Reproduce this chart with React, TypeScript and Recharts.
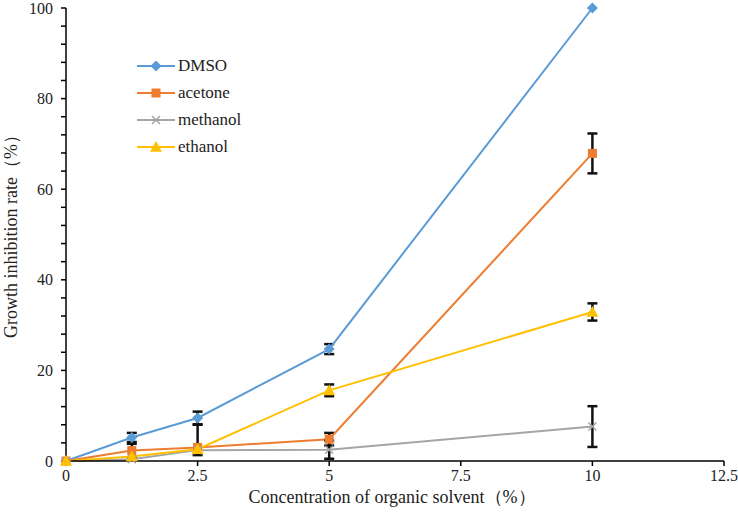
import React from "react";
import { LineChart, Line, XAxis, YAxis, ErrorBar, Customized } from "recharts";

/* ---- data ---- */
const conc = [0, 1.25, 2.5, 5, 10];
const dmso = [0, 5.2, 9.5, 24.7, 100];
const dmsoErr = [0, 1.0, 1.4, 1.1, 0];
const acetone = [0, 2.3, 3.0, 4.8, 67.9];
const acetoneErr: [number, number][] = [[0, 0], [1.5, 1.5], [1.7, 5.0], [1.4, 1.4], [4.4, 4.4]];
const methanol = [0, 0.4, 2.4, 2.5, 7.6];
const methanolErr = [0, 0, 0, 2.0, 4.5];
const ethanol = [0, 1.0, 2.6, 15.6, 32.9];
const ethanolErr = [0, 0, 0, 1.3, 1.9];

const xTicks = [0, 2.5, 5, 7.5, 10, 12.5];
const yTicks = Array.from({ length: 26 }, (_, i) => i * 4);

const C = {
  dmso: "#5B9BD5",
  acetone: "#ED7D31",
  methanol: "#A5A5A5",
  ethanol: "#FFC000",
};

const FONT = "'Liberation Serif', 'DejaVu Serif', 'Times New Roman', serif";
const txt = { fontFamily: FONT };

const rows = conc.map((c, i) => ({
  c,
  dmso: dmso[i],
  dmsoErr: dmsoErr[i],
  acetone: acetone[i],
  acetoneErr: acetoneErr[i][0] || acetoneErr[i][1] ? acetoneErr[i] : 0,
  methanol: methanol[i],
  methanolErr: methanolErr[i],
  ethanol: ethanol[i],
  ethanolErr: ethanolErr[i],
}));

type Shape = "diamond" | "square" | "cross" | "triangle";

const Marker = ({ cx, cy, shape, color }: { cx: number; cy: number; shape: Shape; color: string }) => {
  if (cx == null || cy == null) return null;
  if (shape === "diamond") {
    const r = 5.5;
    return <path d={`M${cx},${cy - r}L${cx + r},${cy}L${cx},${cy + r}L${cx - r},${cy}Z`} fill={color} />;
  }
  if (shape === "square") {
    const r = 4.5;
    return <rect x={cx - r} y={cy - r} width={2 * r} height={2 * r} fill={color} />;
  }
  if (shape === "triangle") {
    const r = 6;
    return <path d={`M${cx},${cy - r}L${cx + r},${cy + r * 0.8}L${cx - r},${cy + r * 0.8}Z`} fill={color} />;
  }
  const r = 4;
  return (
    <path
      d={`M${cx - r},${cy - r}L${cx + r},${cy + r}M${cx + r},${cy - r}L${cx - r},${cy + r}`}
      stroke={color}
      strokeWidth={1.5}
      fill="none"
    />
  );
};

const series: { key: string; name: string; color: string; shape: Shape }[] = [
  { key: "dmso", name: "DMSO", color: C.dmso, shape: "diamond" },
  { key: "acetone", name: "acetone", color: C.acetone, shape: "square" },
  { key: "methanol", name: "methanol", color: C.methanol, shape: "cross" },
  { key: "ethanol", name: "ethanol", color: C.ethanol, shape: "triangle" },
];

/* legend + axis titles drawn straight into the svg */
const Overlay = () => (
  <g style={txt}>
    {series.map((s, i) => {
      const y = 66 + i * 27;
      return (
        <g key={s.key}>
          <line x1={137} x2={175} y1={y} y2={y} stroke={s.color} strokeWidth={2} />
          <Marker cx={156} cy={y} shape={s.shape} color={s.color} />
          <text x={178} y={y + 5} style={txt} fontSize={17} fill="#222">
            {s.name}
          </text>
        </g>
      );
    })}
    <text x={392} y={503} textAnchor="middle" style={txt} fontSize={18} fill="#222">
      Concentration of organic solvent（%）
    </text>
    <text x={17} y={232} transform="rotate(-90 17 232)" textAnchor="middle" style={txt} fontSize={18} fill="#222">
      Growth inhibition rate（%）
    </text>
  </g>
);

export default function App() {
  return (
    <div style={{ position: "absolute", left: 0, top: 0, width: 738, height: 515, background: "#fff", fontFamily: FONT }}>
      <LineChart width={738} height={515} data={rows} margin={{ top: 8, right: 14, bottom: 24, left: 0 }} style={txt}>
        <XAxis
          type="number"
          dataKey="c"
          domain={[0, 12.5]}
          ticks={xTicks}
          tickFormatter={(v: number) => String(v)}
          stroke="#000"
          strokeWidth={1.5}
          tickSize={5}
          tickMargin={4}
          height={30}
          tick={{ fill: "#222", fontSize: 16, style: txt }}
          tickLine={{ stroke: "#000" }}
        />
        <YAxis
          type="number"
          domain={[0, 100]}
          ticks={yTicks}
          interval={0}
          tickFormatter={(v: number) => (v % 20 === 0 ? String(v) : "")}
          stroke="#000"
          strokeWidth={1.5}
          tickSize={5}
          tickMargin={8}
          width={66}
          tick={{ fill: "#222", fontSize: 16, style: txt }}
          tickLine={{ stroke: "#000" }}
        />
        {series.map((s) => (
          <Line
            key={s.key}
            type="linear"
            dataKey={s.key}
            name={s.name}
            stroke={s.color}
            strokeWidth={2}
            isAnimationActive={false}
            dot={(p: any) => <Marker key={`${s.key}-${p.index}`} cx={p.cx} cy={p.cy} shape={s.shape} color={s.color} />}
            activeDot={false}
          >
            <ErrorBar dataKey={`${s.key}Err`} width={5} strokeWidth={2.5} stroke="#111" direction="y" />
          </Line>
        ))}
        <Customized component={Overlay} />
      </LineChart>
    </div>
  );
}
